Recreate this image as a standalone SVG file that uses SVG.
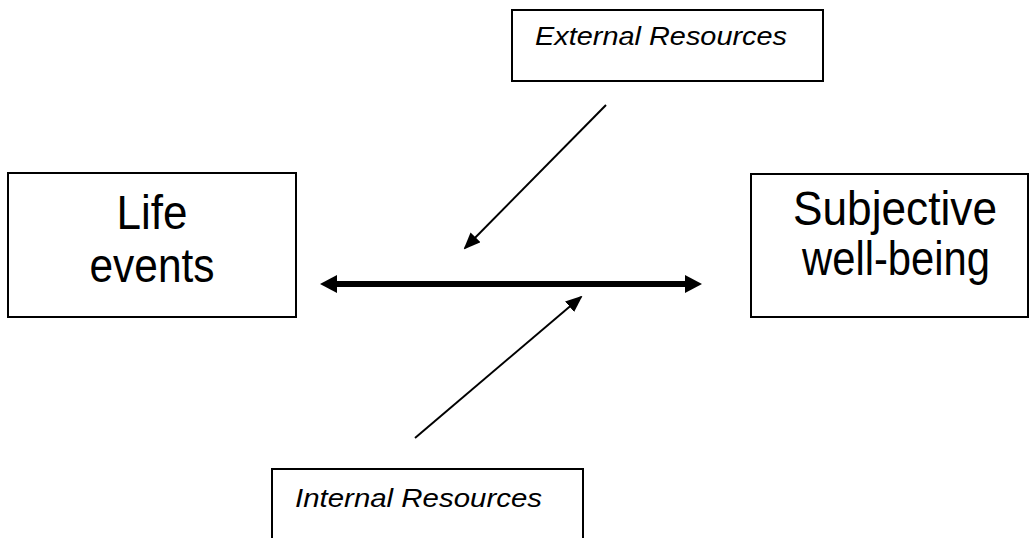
<svg xmlns="http://www.w3.org/2000/svg" width="1030" height="538" viewBox="0 0 1030 538">
<style>
.box{fill:#fff;stroke:#000;stroke-width:2}
.big{font-family:"Liberation Sans","DejaVu Sans",sans-serif;font-size:49px;fill:#000;text-anchor:middle}
.small{font-family:"Liberation Sans","DejaVu Sans",sans-serif;font-size:25px;font-style:italic;fill:#000}
.thick{stroke:#000;stroke-width:6;fill:none;marker-start:url(#bigHead);marker-end:url(#bigHead)}
.thin{stroke:#000;stroke-width:2;fill:none;marker-end:url(#smallHead)}
</style>
<defs>
<marker id="bigHead" markerUnits="userSpaceOnUse" viewBox="0 0 17 18" markerWidth="17" markerHeight="18" refX="9" refY="9" orient="auto-start-reverse"><path d="M0,0 L17,9 L0,18 z" fill="#000"/></marker>
<marker id="smallHead" markerUnits="userSpaceOnUse" viewBox="0 0 17 14" markerWidth="17" markerHeight="14" refX="15" refY="7" orient="auto"><path d="M0,0 L17,7 L0,14 z" fill="#000"/></marker>
</defs>
<rect width="1030" height="538" fill="#fff"/>
<g id="connectors">
<line class="thick" x1="328" y1="284" x2="694" y2="284"/>
<line class="thin" x1="606" y1="105" x2="465" y2="248"/>
<line class="thin" x1="415" y1="438" x2="581" y2="297"/>
</g>
<g id="external">
<rect class="box" x="512" y="10" width="311" height="71"/>
<text class="small" x="535" y="45" textLength="252" lengthAdjust="spacingAndGlyphs">External Resources</text>
</g>
<g id="life">
<rect class="box" x="8" y="173" width="288" height="144"/>
<text class="big" x="152" y="229" textLength="71" lengthAdjust="spacingAndGlyphs">Life</text>
<text class="big" x="152" y="282" textLength="125" lengthAdjust="spacingAndGlyphs">events</text>
</g>
<g id="swb">
<rect class="box" x="751" y="174" width="277" height="143"/>
<text class="big" x="895" y="225" textLength="204" lengthAdjust="spacingAndGlyphs">Subjective</text>
<text class="big" x="896" y="275" textLength="188" lengthAdjust="spacingAndGlyphs">well-being</text>
</g>
<g id="internal">
<rect class="box" x="272" y="469" width="311" height="80"/>
<text class="small" x="295" y="507" textLength="247" lengthAdjust="spacingAndGlyphs">Internal Resources</text>
</g>
</svg>
